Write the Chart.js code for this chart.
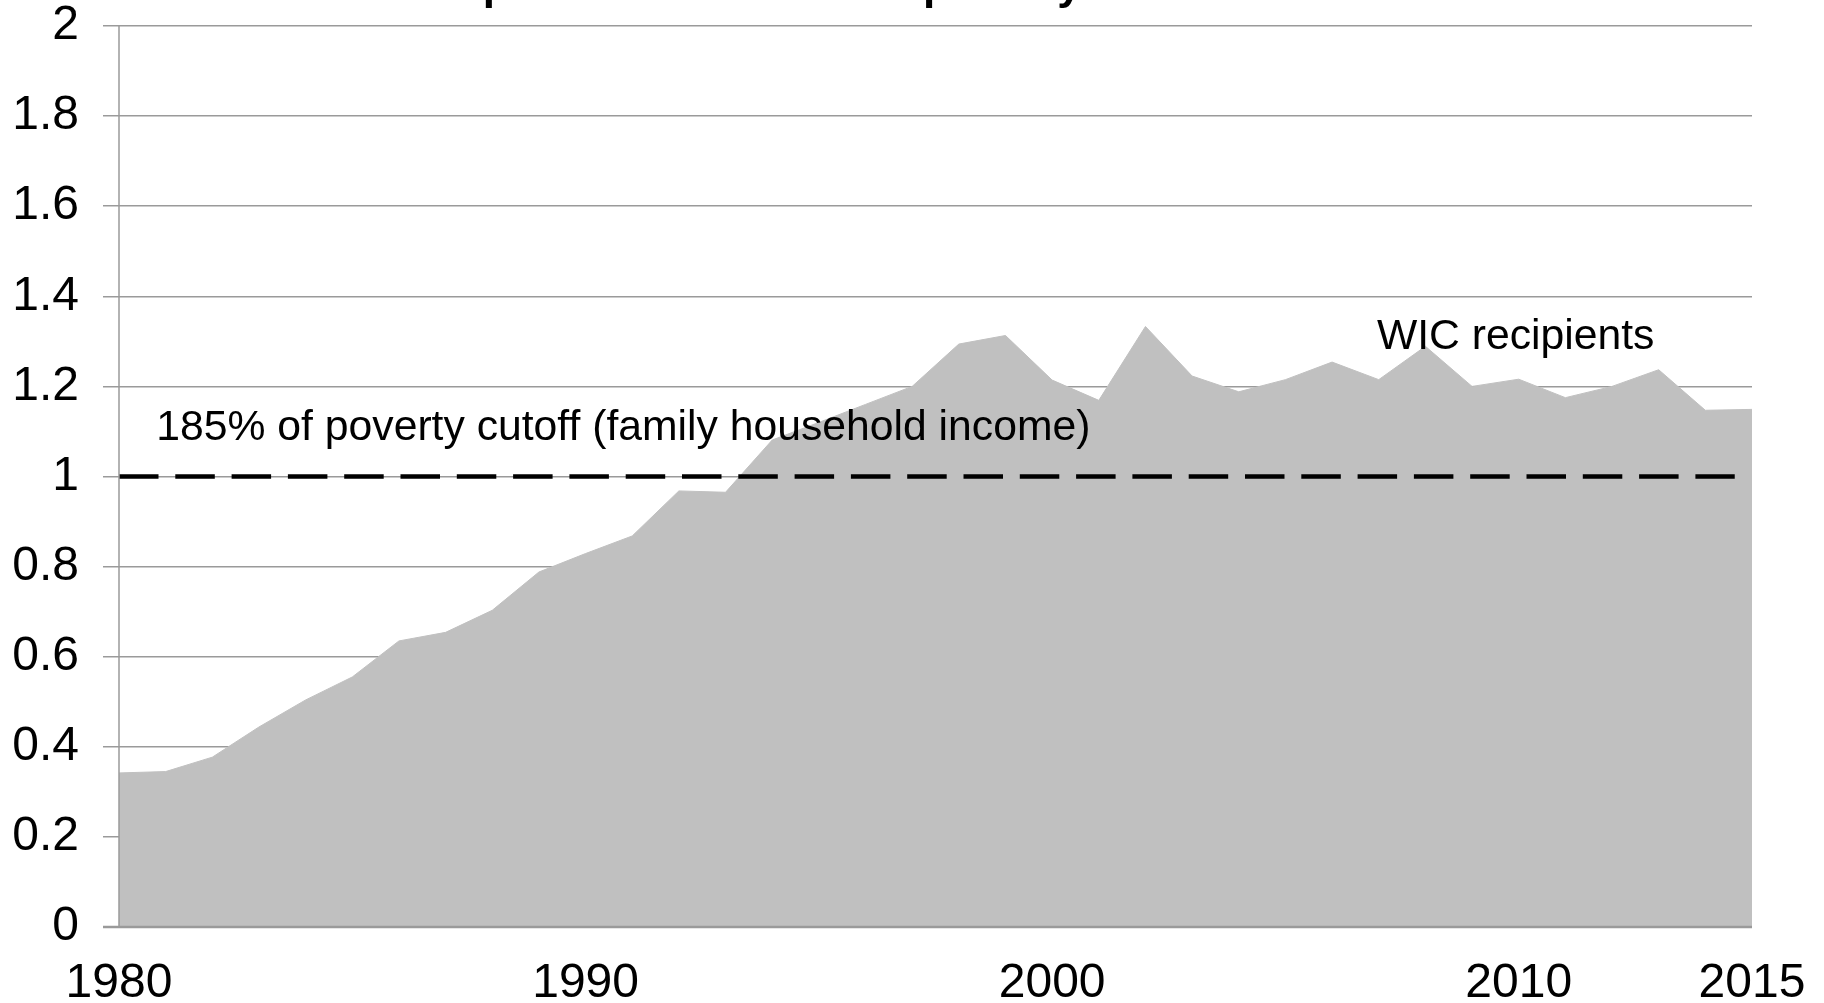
<!DOCTYPE html>
<html>
<head>
<meta charset="utf-8">
<script src="https://cdn.jsdelivr.net/npm/chart.js@4.4.1/dist/chart.umd.min.js"></script>
<style>
  html, body { margin: 0; padding: 0; background: #ffffff; overflow: hidden; }
  #wrap { position: relative; width: 1824px; height: 1003px; }
</style>
</head>
<body>
<div id="wrap"><canvas id="c"></canvas></div>
<script>
// ---- Data ----
const years = [1980,1981,1982,1983,1984,1985,1986,1987,1988,1989,
               1990,1991,1992,1993,1994,1995,1996,1997,1998,1999,
               2000,2001,2002,2003,2004,2005,2006,2007,2008,2009,
               2010,2011,2012,2013,2014,2015];
const wicRatio = [0.342,0.345,0.377,0.444,0.504,0.555,0.635,0.654,0.703,0.788,
                  0.829,0.868,0.968,0.965,1.081,1.120,1.160,1.200,1.294,1.313,
                  1.214,1.169,1.333,1.223,1.188,1.215,1.254,1.215,1.289,1.200,
                  1.216,1.175,1.200,1.237,1.147,1.149];
const cutoffYears = [1980, 2014.63];
const cutoffValues = [1, 1];
const xTickValues = [1980, 1990, 2000, 2010, 2015];
const yTickValues = [0, 0.2, 0.4, 0.6, 0.8, 1, 1.2, 1.4, 1.6, 1.8, 2];
const annoTexts = ['185% of poverty cutoff (family household income)', 'WIC recipients'];
const annoX = [1980.8, 2006.96];
const annoY = [1.082, 1.283];
const titleText = 'Income of WIC recipients relative to the poverty line';

const FONT = '"Liberation Sans", Arial, sans-serif';

const annotationPlugin = {
  id: 'annos',
  afterDatasetsDraw(chart) {
    const ctx = chart.ctx, xs = chart.scales.x, ys = chart.scales.y, ca = chart.chartArea;
    ctx.save();
    ctx.strokeStyle = '#9a9a9a';
    ctx.lineWidth = 1.5;
    ctx.beginPath();
    ctx.moveTo(ca.left, ca.top);
    ctx.lineTo(ca.left, ca.bottom);
    ctx.stroke();
    ctx.lineWidth = 2.5;
    ctx.beginPath();
    ctx.moveTo(ca.left - 16, ca.bottom);
    ctx.lineTo(ca.right, ca.bottom);
    ctx.stroke();
    ctx.fillStyle = '#000000';
    ctx.font = '42.7px ' + FONT;
    ctx.textAlign = 'left';
    ctx.textBaseline = 'alphabetic';
    for (let i = 0; i < annoTexts.length; i++) {
      ctx.fillText(annoTexts[i], xs.getPixelForValue(annoX[i]), ys.getPixelForValue(annoY[i]));
    }
    ctx.restore();
  },
  afterDraw(chart) {
    const ctx = chart.ctx;
    ctx.save();
    ctx.fillStyle = '#000000';
    ctx.font = 'bold 44px ' + FONT;
    ctx.textAlign = 'left';
    ctx.textBaseline = 'alphabetic';
    const w1 = ctx.measureText('Income of WIC reci').width + 6;
    const w2 = ctx.measureText('Income of WIC recipients relative to the ').width + 6;
    const w3 = ctx.measureText('Income of WIC recipients relative to the povert').width + 9;
    const start = ((482 - w1) + (933 - w2) + (1081 - w3)) / 3 - 4;
    ctx.fillText(titleText, start, -1.5);
    ctx.restore();
  }
};

function zeroPad(scale) {
  scale.paddingTop = 0; scale.paddingBottom = 0;
  scale.paddingLeft = 0; scale.paddingRight = 0;
}

new Chart(document.getElementById('c'), {
  type: 'line',
  data: {
    datasets: [
      {
        label: '185% of poverty cutoff',
        data: cutoffYears.map((y, i) => ({ x: y, y: cutoffValues[i] })),
        borderColor: '#000000',
        borderWidth: 4.5,
        borderDash: [39.5, 16.8],
        pointRadius: 0,
        fill: false,
        order: 0
      },
      {
        label: 'WIC recipients',
        data: years.map((y, i) => ({ x: y, y: wicRatio[i] })),
        borderColor: '#c0c0c0',
        borderWidth: 1,
        backgroundColor: '#c0c0c0',
        pointRadius: 0,
        tension: 0,
        fill: 'origin',
        order: 1
      }
    ]
  },
  options: {
    responsive: true,
    maintainAspectRatio: false,
    animation: false,
    layout: { padding: { top: 26, right: 72, left: 0, bottom: 0 } },
    plugins: {
      legend: { display: false },
      tooltip: { enabled: false },
      title: { display: false }
    },
    scales: {
      x: {
        type: 'linear',
        min: 1980,
        max: 2015,
        afterBuildTicks: (scale) => { scale.ticks = xTickValues.map(v => ({ value: v })); },
        afterFit: (scale) => { scale.height = 76; zeroPad(scale); },
        grid: { display: false, drawTicks: false },
        border: { display: false },
        ticks: {
          autoSkip: false,
          maxRotation: 0,
          color: '#000000',
          padding: 33,
          font: { family: FONT, size: 48, lineHeight: 1 },
          callback: (v) => String(v)
        }
      },
      y: {
        min: 0,
        max: 2,
        afterBuildTicks: (scale) => { scale.ticks = yTickValues.map(v => ({ value: v })); },
        afterFit: (scale) => { scale.width = 119; zeroPad(scale); },
        grid: { color: '#9a9a9a', lineWidth: 1.5, drawTicks: true, tickLength: 16 },
        border: { display: false },
        ticks: {
          color: '#000000',
          padding: 24,
          font: { family: FONT, size: 48, lineHeight: 1 },
          callback: (v) => String(Math.round(v * 10) / 10)
        }
      }
    }
  },
  plugins: [annotationPlugin]
});
</script>
</body>
</html>
